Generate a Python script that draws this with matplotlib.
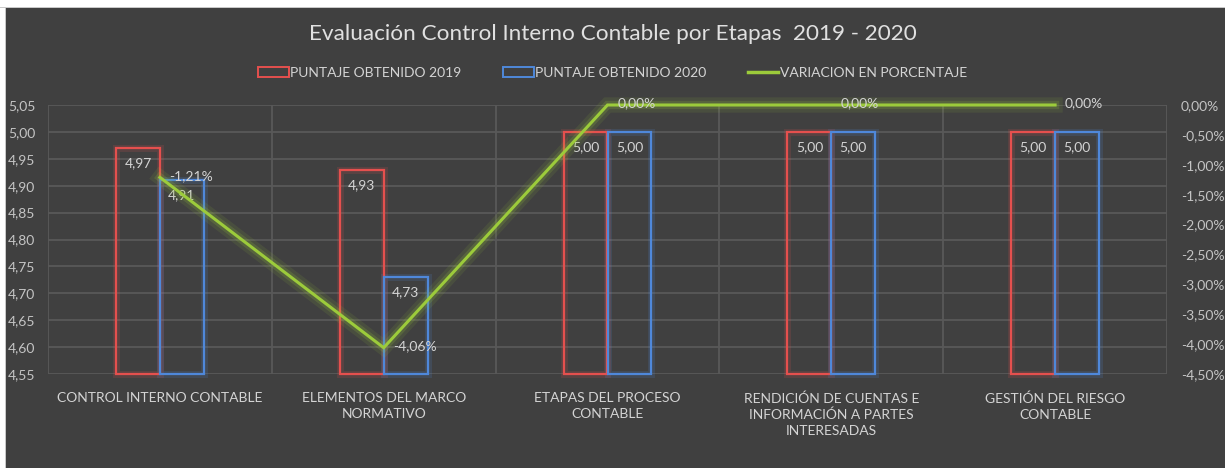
import matplotlib
matplotlib.use("Agg")
import matplotlib.pyplot as plt
from matplotlib.patches import Patch, Rectangle
from matplotlib.lines import Line2D
import numpy as np

categories = ["CONTROL INTERNO CONTABLE", "ELEMENTOS DEL MARCO\nNORMATIVO",
              "ETAPAS DEL PROCESO\nCONTABLE",
              "RENDICIÓN DE CUENTAS E\nINFORMACIÓN A PARTES\nINTERESADAS",
              "GESTIÓN DEL RIESGO\nCONTABLE"]
score_2019 = [4.97, 4.93, 5.00, 5.00, 5.00]
score_2020 = [4.91, 4.73, 5.00, 5.00, 5.00]
variation = [-1.21, -4.06, 0.00, 0.00, 0.00]

left_ticks = [4.55, 4.60, 4.65, 4.70, 4.75, 4.80, 4.85, 4.90, 4.95, 5.00, 5.05]
right_ticks = [0.0, -0.5, -1.0, -1.5, -2.0, -2.5, -3.0, -3.5, -4.0, -4.5]

BG = "#404040"
RED = "#E5504E"
BLUE = "#4F88DA"
GREEN = "#9CCB3B"
TXT = "#D4D4D4"
TICK = "#C4C4C4"
GRID = "#595959"
FONT = ["Lato", "DejaVu Sans"]
FS = 10

W, H = 1225, 468
fig = plt.figure(figsize=(W / 100, H / 100), dpi=100, facecolor="white")
fig.patches.append(Rectangle((6 / W, 0), 1 - 6 / W, 1 - 8 / H, transform=fig.transFigure,
                             facecolor=BG, edgecolor="none", zorder=-10))
fig.patches.append(Rectangle((0, 1 - 8 / H), 1, 1.5 / H, transform=fig.transFigure,
                             facecolor="#C8C8C8", edgecolor="none", zorder=-9))
fig.patches.append(Rectangle((5 / W, 0), 1.2 / W, 1 - 8 / H, transform=fig.transFigure,
                             facecolor="#C8C8C8", edgecolor="none", zorder=-9))

x0, x1, y0, y1 = 48, 1167, 105, 374
ax = fig.add_axes([x0 / W, 1 - y1 / H, (x1 - x0) / W, (y1 - y0) / H])
ax.set_facecolor(BG)
ax.patch.set_alpha(0)

n = len(categories)
x = np.arange(n)
bw = 0.196

ax.set_xlim(-0.5, n - 0.5)
ax.set_ylim(4.55, 5.05)
ax.set_yticks(left_ticks)
ax.set_yticklabels([f"{v:.2f}".replace(".", ",") for v in left_ticks])
for v in left_ticks:
    ax.axhline(v, color=GRID, lw=1.3, zorder=0)
for b in np.arange(-0.5, n, 1.0):
    ax.axvline(b, color=GRID, lw=1.3, zorder=0)

base = 4.55
for xs, vals, col in [(x - bw / 2, score_2019, RED), (x + bw / 2, score_2020, BLUE)]:
    heights = [v - base for v in vals]
    g = ax.bar(xs, heights, bw, bottom=base, facecolor="none", edgecolor=col, lw=5, alpha=0.16, zorder=2)
    for p in g:
        p.set_clip_on(False)
    b = ax.bar(xs, heights, bw, bottom=base, facecolor="none", edgecolor=col, lw=1.6, zorder=3)
    for p in b:
        p.set_clip_on(False)
    for xi, v in zip(xs, vals):
        ax.text(xi, v - 0.017, f"{v:.2f}".replace(".", ","), ha="center", va="top",
                color=TXT, fontsize=FS, family=FONT, zorder=6)

for s in ax.spines.values():
    s.set_visible(False)
ax.tick_params(axis="both", length=0, colors=TICK, labelsize=FS, pad=9)
ax.set_xticks(x)
ax.set_xticklabels(categories, color=TXT, fontsize=FS, family=FONT, linespacing=1.4)
ax.tick_params(axis="x", pad=13)
for lab in ax.get_yticklabels():
    lab.set_family(FONT)

ax2 = ax.twinx()
ax2.set_ylim(-4.5, 0.0)
ax2.set_yticks(right_ticks)
ax2.set_yticklabels([f"{v:.2f}%".replace(".", ",") for v in right_ticks])
for lab in ax2.get_yticklabels():
    lab.set_family(FONT)
ax2.tick_params(axis="y", length=0, colors=TICK, labelsize=FS, pad=10)
for s in ax2.spines.values():
    s.set_visible(False)
ax2.plot(x, variation, color=GREEN, lw=11, alpha=0.10, solid_joinstyle="miter", zorder=3, clip_on=False)
ax2.plot(x, variation, color=GREEN, lw=6, alpha=0.18, solid_joinstyle="miter", zorder=3, clip_on=False)
ax2.plot(x, variation, color=GREEN, lw=2.2, solid_joinstyle="miter", zorder=4, clip_on=False)
for xi, v in zip(x, variation):
    ax2.annotate(f"{v:.2f}%".replace(".", ",").replace("-0,00", "0,00"), (xi, v),
                 xytext=(7, 1), textcoords="offset points", ha="left", va="center",
                 color=TXT, fontsize=FS, family=FONT, zorder=7)

fig.text(0.5, 1 - 34 / H, "Evaluación Control Interno Contable por Etapas  2019 - 2020",
         ha="center", va="center", color="#E0E0E0", fontsize=16.2, family=FONT)

handles = [Patch(facecolor="none", edgecolor=RED, lw=1.4),
           Patch(facecolor="none", edgecolor=BLUE, lw=1.4),
           Line2D([0], [0], color=GREEN, lw=2.5)]
labels = ["PUNTAJE OBTENIDO 2019", "PUNTAJE OBTENIDO 2020", "VARIACION EN PORCENTAJE"]
leg = fig.legend(handles, labels, loc="center", bbox_to_anchor=(0.5, 1 - 73 / H), ncol=3,
                 frameon=False, labelcolor=TXT, handlelength=2.2,
                 handletextpad=0.1, columnspacing=3.0, prop={"family": FONT, "size": 10})

fig.savefig("out.png", dpi=100, facecolor="white")
